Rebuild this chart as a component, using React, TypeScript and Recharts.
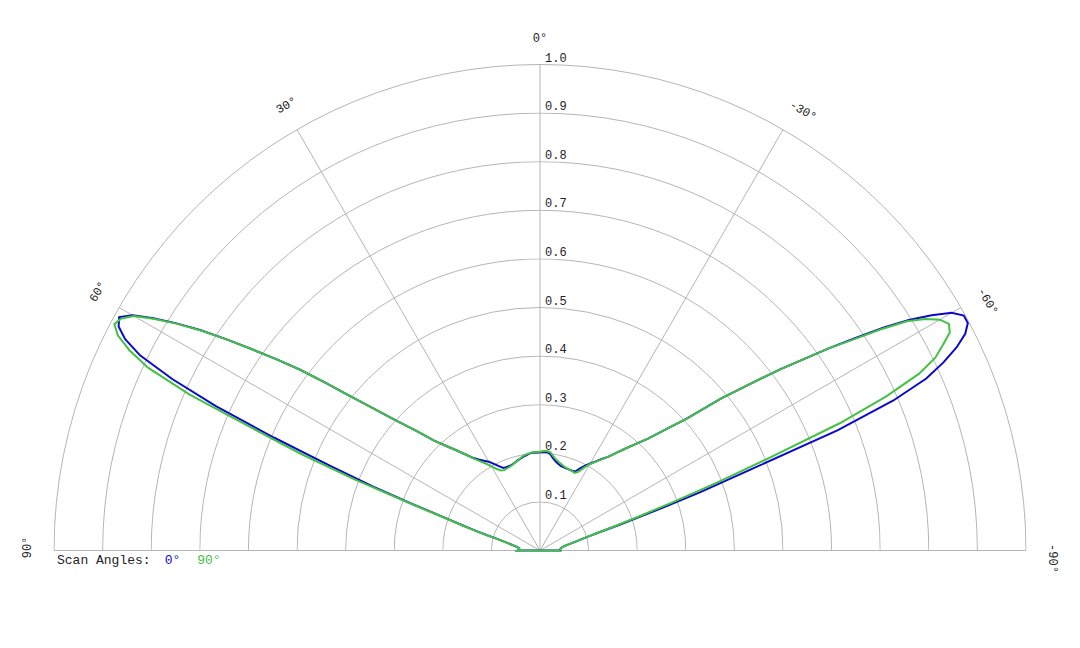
import React from "react";
import {
  RadarChart,
  Radar,
  PolarGrid,
  PolarAngleAxis,
  PolarRadiusAxis,
  Legend,
} from "recharts";

// Polar angle (degrees), +90 on the left, 0 at the top, -90 on the right
const angles: number[] = [
  90, 88, 86, 84, 82, 80, 78, 76, 75, 74, 73, 72, 71, 70, 69, 68, 67, 66, 65, 64,
  63, 62, 61, 60, 59, 58, 57, 56, 55, 54, 53, 52, 51, 50, 48, 46, 44, 42, 40, 38,
  36, 34, 32, 30, 28, 26, 24, 22, 20, 18, 16, 14, 12, 10, 8, 6, 4, 2, 0,
  -2, -4, -6, -8, -10, -12, -14, -16, -18, -20, -22, -24, -26, -28, -30, -32, -34,
  -36, -38, -40, -42, -44, -46, -48, -50, -51, -52, -53, -54, -55, -56, -57, -58,
  -59, -60, -61, -62, -63, -64, -65, -66, -67, -68, -69, -70, -71, -72, -73, -74,
  -75, -76, -78, -80, -82, -84, -86, -88, -90,
];

// Scan angle 0° (blue)
const scan0: number[] = [
  0.046, 0.044, 0.043, 0.043, 0.046, 0.052, 0.062, 0.076, 0.09, 0.11, 0.138, 0.168,
  0.205, 0.28, 0.37, 0.47, 0.595, 0.73, 0.835, 0.915, 0.958, 0.982, 0.99, 0.968,
  0.928, 0.882, 0.832, 0.776, 0.72, 0.668, 0.618, 0.562, 0.51, 0.468, 0.402, 0.355,
  0.315, 0.29, 0.27, 0.252, 0.236, 0.226, 0.218, 0.211, 0.202, 0.193, 0.186, 0.185,
  0.185, 0.186, 0.188, 0.191, 0.193, 0.196, 0.198, 0.201, 0.202, 0.202, 0.202,
  0.203, 0.203, 0.2, 0.192, 0.186, 0.182, 0.179, 0.178, 0.177, 0.177, 0.177, 0.178,
  0.188, 0.198, 0.207, 0.216, 0.227, 0.238, 0.255, 0.274, 0.295, 0.32, 0.357, 0.405,
  0.487, 0.525, 0.57, 0.62, 0.668, 0.725, 0.78, 0.842, 0.895, 0.94, 0.978, 0.997,
  0.997, 0.982, 0.954, 0.916, 0.87, 0.79, 0.66, 0.46, 0.35, 0.25, 0.175, 0.125, 0.1,
  0.086, 0.076, 0.06, 0.05, 0.045, 0.043, 0.042, 0.042, 0.042,
];

// Scan angle 90° (green)
const scan90: number[] = [
  0.046, 0.044, 0.043, 0.043, 0.046, 0.052, 0.063, 0.078, 0.092, 0.112, 0.14, 0.17,
  0.215, 0.29, 0.41, 0.53, 0.64, 0.79, 0.89, 0.94, 0.975, 0.992, 0.985, 0.965,
  0.925, 0.88, 0.83, 0.775, 0.72, 0.668, 0.618, 0.562, 0.51, 0.468, 0.402, 0.355,
  0.315, 0.29, 0.27, 0.252, 0.235, 0.222, 0.211, 0.2, 0.19, 0.183, 0.181, 0.182,
  0.183, 0.185, 0.188, 0.19, 0.194, 0.198, 0.2, 0.201, 0.203, 0.203, 0.203,
  0.205, 0.205, 0.203, 0.196, 0.19, 0.186, 0.183, 0.18, 0.178, 0.177, 0.176, 0.175,
  0.18, 0.193, 0.205, 0.215, 0.226, 0.238, 0.255, 0.274, 0.295, 0.32, 0.357, 0.405,
  0.487, 0.525, 0.57, 0.62, 0.668, 0.725, 0.775, 0.835, 0.89, 0.925, 0.95, 0.962,
  0.955, 0.93, 0.905, 0.86, 0.78, 0.67, 0.51, 0.39, 0.29, 0.215, 0.16, 0.12, 0.1,
  0.085, 0.075, 0.06, 0.05, 0.045, 0.043, 0.042, 0.042, 0.042,
];

const angleTicks: number[] = [-90, -60, -30, 0, 30, 60, 90];
const radiusTicks: number[] = [0.1, 0.2, 0.3, 0.4, 0.5, 0.6, 0.7, 0.8, 0.9, 1.0];

const seriesNames = { scan0: "0°", scan90: "90°" };
const BLUE = "#0a0ac8";
const GREEN = "#44c044";

const data = angles.map((a, i) => ({ angle: a, scan0: scan0[i], scan90: scan90[i] }));

const MONO = "'Liberation Mono', 'Courier New', monospace";

const AngleTick = (props: any) => {
  const { x, y, payload } = props;
  const v = Number(payload.value);
  const shift = v < 0 ? 8 : v > 0 ? 3 : 0;
  return (
    <g transform={`translate(${x},${y}) rotate(${-v})`}>
      <text
        x={shift}
        y={0}
        dy="0.35em"
        textAnchor="middle"
        fontSize={12}
        fontFamily={MONO}
        fill="#222"
      >
        {`${v}°`}
      </text>
    </g>
  );
};

const RadiusTick = (props: any) => {
  const { x, y, payload } = props;
  return (
    <text x={x + 5} y={y - 3} fontSize={12} fontFamily={MONO} fill="#222" textAnchor="start">
      {Number(payload.value).toFixed(1)}
    </text>
  );
};

const LegendContent = (props: any) => {
  const items = props.payload || [];
  return (
    <div style={{ fontFamily: MONO, fontSize: 13, color: "#222", whiteSpace: "nowrap" }}>
      <span>Scan Angles:</span>
      {items.map((it: any, i: number) => (
        <span key={i} style={{ color: it.color, marginLeft: i === 0 ? 14 : 17 }}>
          {it.value}
        </span>
      ))}
    </div>
  );
};

export default function App() {
  return (
    <div style={{ width: 1064, height: 620, position: "relative" }}>
      <style>{`.recharts-polar-grid-concentric circle { clip-path: inset(0 0 50% 0); }`}</style>
      <RadarChart
        width={1064}
        height={620}
        data={data}
        cx={532}
        cy={542.5}
        innerRadius={0}
        outerRadius={486}
        startAngle={0}
        endAngle={180}
      >
        <PolarGrid gridType="circle" stroke="#b5b5b5" strokeWidth={1} />
        <PolarAngleAxis
          dataKey="angle"
          type="number"
          domain={[-90, 90]}
          ticks={angleTicks as any}
          tickCount={7}
          axisLine={false}
          tickLine={false}
          tickSize={27}
          tick={<AngleTick />}
        />
        <PolarRadiusAxis
          angle={90}
          type="number"
          domain={[0, 1]}
          ticks={radiusTicks as any}
          axisLine={false}
          tickLine={false}
          tick={<RadiusTick />}
        />
        <Radar
          name={seriesNames.scan0}
          dataKey="scan0"
          stroke={BLUE}
          strokeWidth={2}
          fill="none"
          fillOpacity={0}
          dot={false}
          isAnimationActive={false}
        />
        <Radar
          name={seriesNames.scan90}
          dataKey="scan90"
          stroke={GREEN}
          strokeWidth={2}
          fill="none"
          fillOpacity={0}
          dot={false}
          isAnimationActive={false}
        />
        <Legend
          content={<LegendContent />}
          wrapperStyle={{ position: "absolute", left: 49, top: 545, width: "auto" }}
        />
      </RadarChart>
    </div>
  );
}
